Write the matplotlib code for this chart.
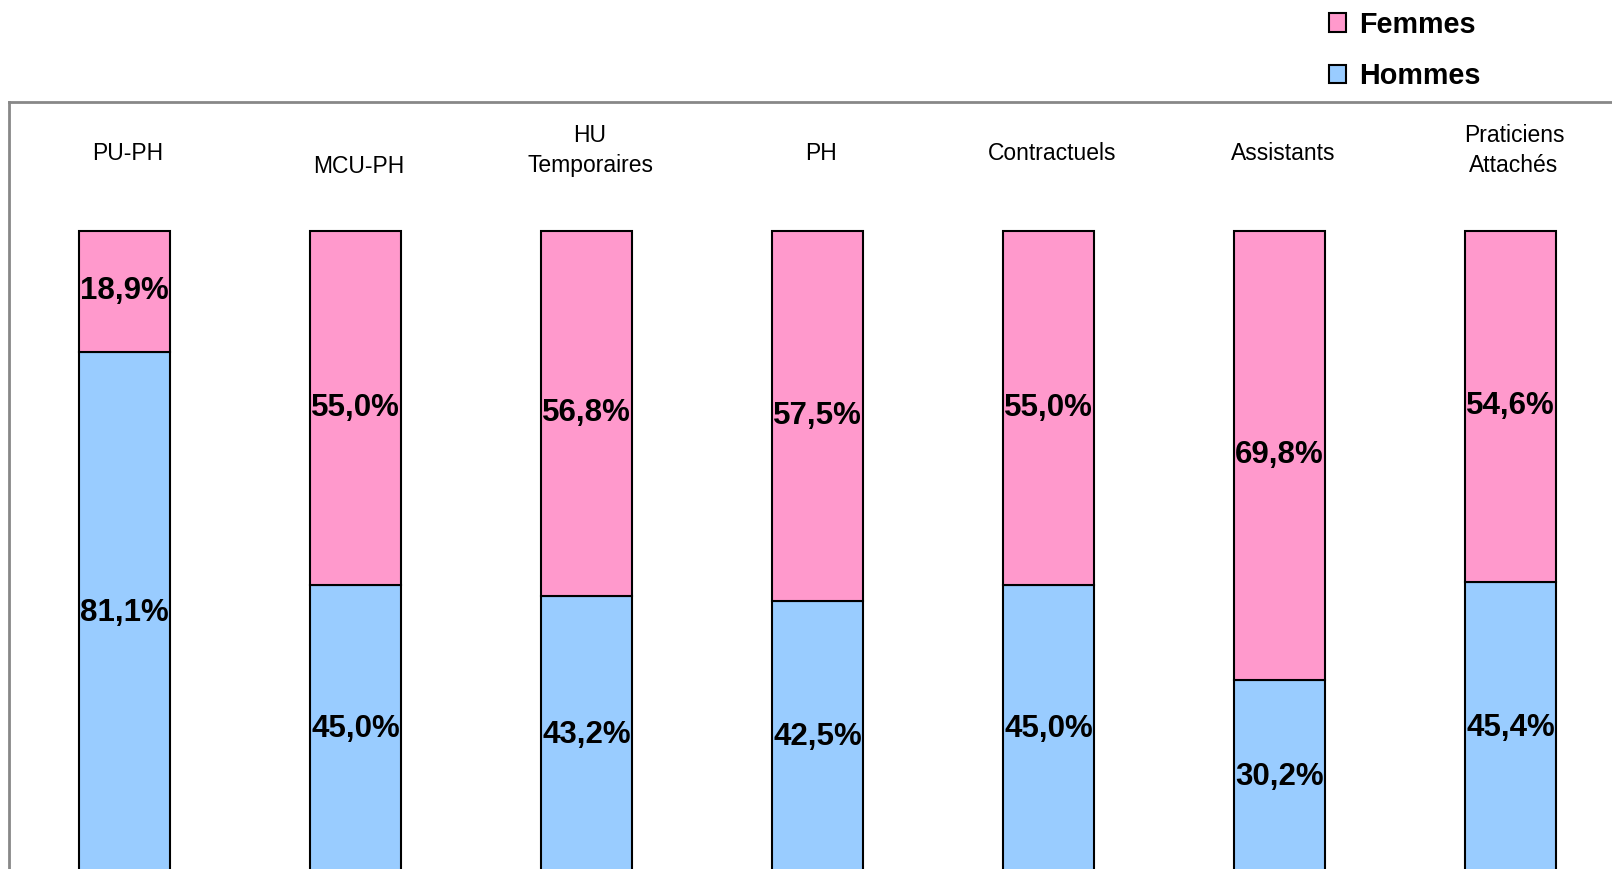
import matplotlib.pyplot as plt
from matplotlib.patches import Patch

plt.rcParams['font.family'] = ['Liberation Sans', 'DejaVu Sans']

categories = ["PU-PH", "MCU-PH", "HU\nTemporaires", "PH", "Contractuels",
              "Assistants", "Praticiens\nAttachés"]
hommes = [81.1, 45.0, 43.2, 42.5, 45.0, 30.2, 45.4]
femmes = [18.9, 55.0, 56.8, 57.5, 55.0, 69.8, 54.6]

pink = "#FF99CC"
blue = "#99CCFF"

fig = plt.figure(figsize=(16.12, 8.69), dpi=100)
# axes runs past the bottom and right edges, like the cropped original
ax = fig.add_axes([9 / 1612, -5 / 869, 1611 / 1612, 772 / 869])

x = list(range(len(categories)))
ax.bar(x, hommes, width=0.395, color=blue, edgecolor="black", linewidth=1.5)
ax.bar(x, femmes, bottom=hommes, width=0.395, color=pink, edgecolor="black",
       linewidth=1.5)

for i in x:
    ax.text(i, hommes[i] / 2, f"{hommes[i]:.1f}%".replace(".", ","),
            ha="center", va="center", fontsize=22.5, fontweight="bold")
    ax.text(i, hommes[i] + femmes[i] / 2, f"{femmes[i]:.1f}%".replace(".", ","),
            ha="center", va="center", fontsize=22.5, fontweight="bold")
    ylab = 109.9 if categories[i] == "MCU-PH" else 112.0
    if "\n" in categories[i]:
        ylab = 112.4
    ax.text(i + 0.015, ylab, categories[i], ha="center", va="center",
            fontsize=16.5, linespacing=1.4)

ax.set_xlim(-0.501, 6.474)
ax.set_ylim(0, 120)
ax.set_xticks([])
ax.set_yticks([])
for s in ax.spines.values():
    s.set_color("#888888")
    s.set_linewidth(2)

handles = [Patch(facecolor=pink, edgecolor="black", linewidth=1.5),
           Patch(facecolor=blue, edgecolor="black", linewidth=1.5)]
fig.legend(handles, ["Femmes", "Hommes"], loc="upper left",
           bbox_to_anchor=(1323 / 1612, 1 - 5 / 869), frameon=False,
           prop={"size": 20.7, "weight": "bold"}, handlelength=0.6,
           handleheight=0.6, handletextpad=0.45, labelspacing=0.82,
           borderaxespad=0.0, borderpad=0.2)

fig.savefig("out.png", dpi=100)
